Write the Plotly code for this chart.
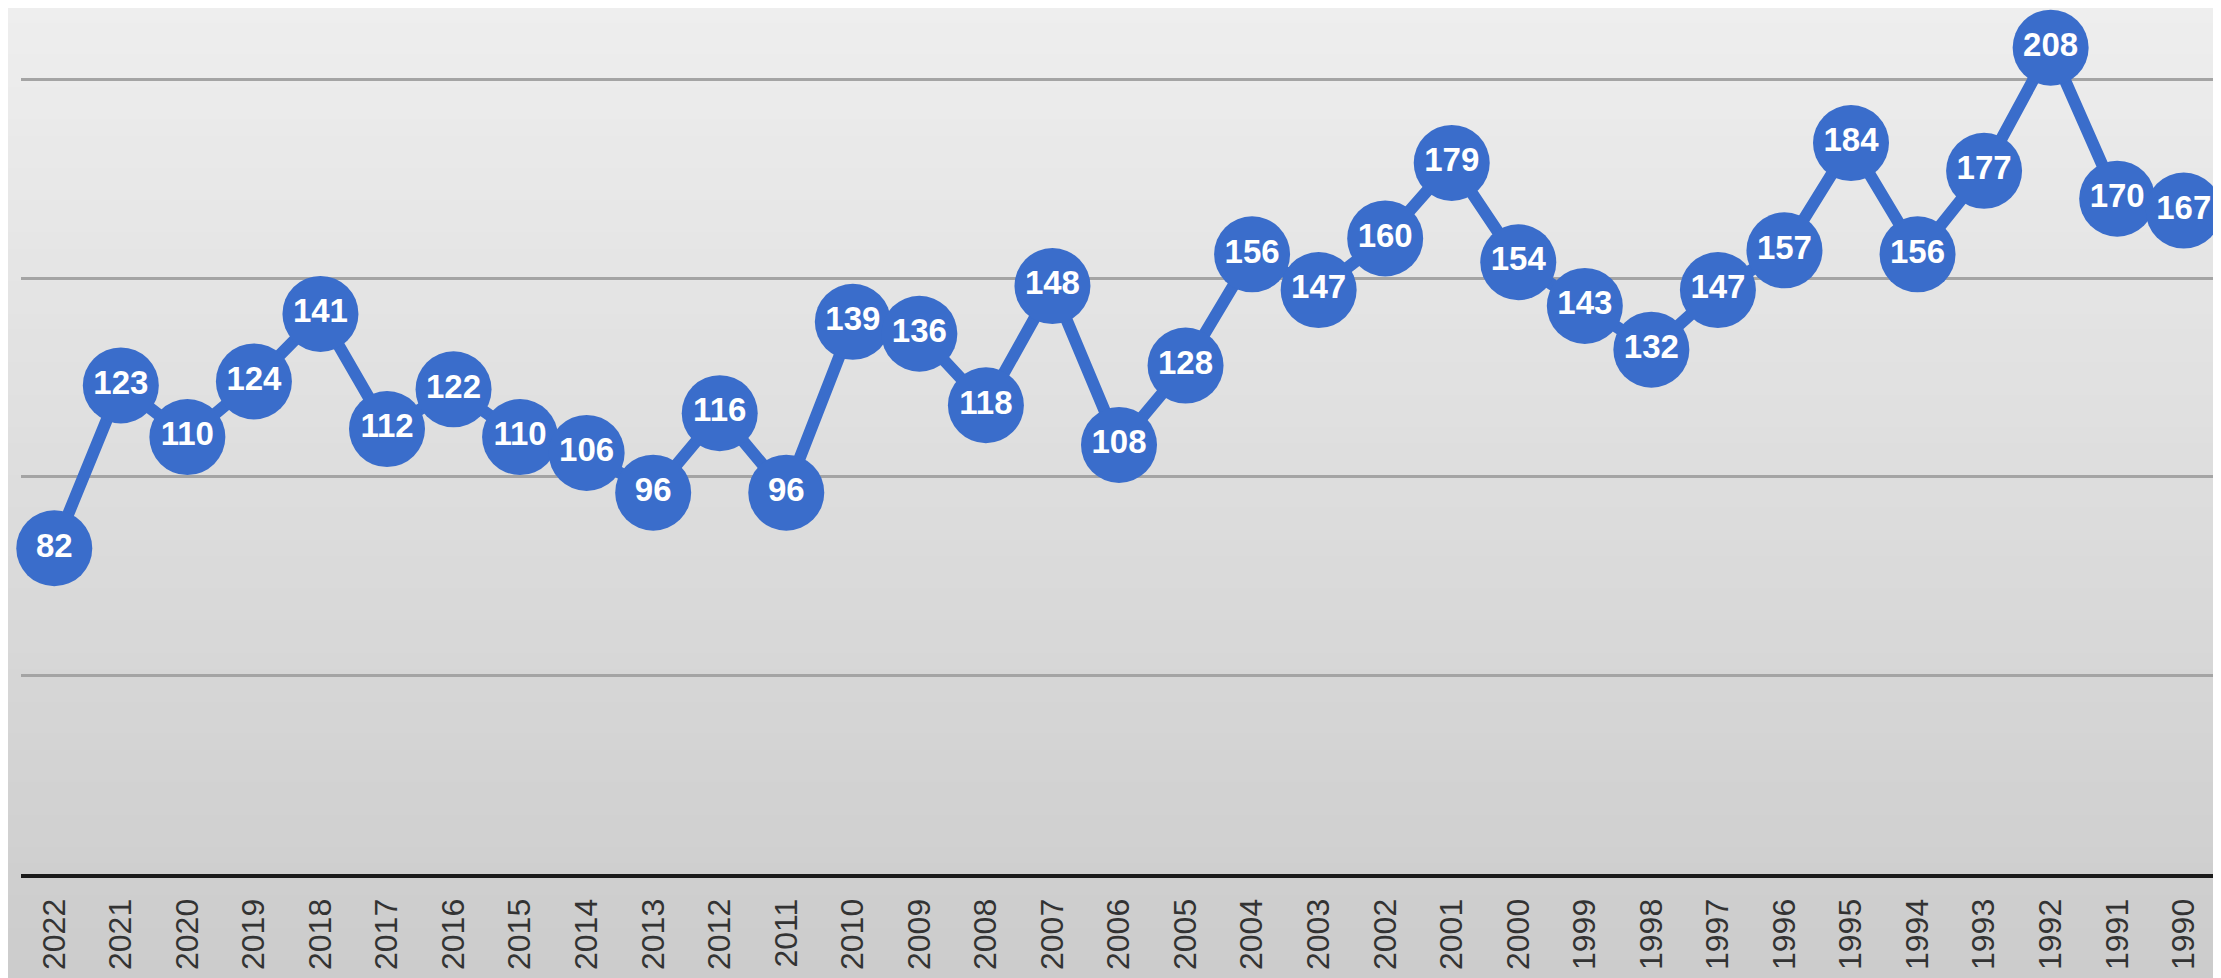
import plotly.graph_objects as go

years = [str(y) for y in range(2022, 1989, -1)]
values = [82, 123, 110, 124, 141, 112, 122, 110, 106, 96, 116, 96, 139, 136, 118,
          148, 108, 128, 156, 147, 160, 179, 154, 143, 132, 147, 157, 184, 156,
          177, 208, 170, 167]

# page has an 8px body margin, so the figure is drawn 8px smaller
W, H = 2213, 970
L, R, T, B = 13, 4, 0, 104
pw, ph = W - L - R, H - T - B

blue = "#3a6dcb"

fig = go.Figure()
fig.add_trace(go.Scatter(
    x=years, y=values, mode="lines+markers+text",
    line=dict(color=blue, width=12),
    marker=dict(color=blue, size=76, line=dict(width=0)),
    text=[str(v) for v in values], textposition="middle center",
    textfont=dict(family="Liberation Sans", size=33, color="white", weight="bold"),
    cliponaxis=False, hoverinfo="skip", showlegend=False,
))

# vertical gradient background
shapes = []
n = 60
top = (238, 238, 238)
bot = (204, 204, 204)
x0p, x1p = -L / pw, 1 + R / pw
y0p, y1p = -B / ph, 1 + T / ph
for i in range(n):
    t = i / (n - 1)
    c = tuple(round(top[k] + (bot[k] - top[k]) * t) for k in range(3))
    ya = y1p - (y1p - y0p) * i / n
    yb = y1p - (y1p - y0p) * (i + 1) / n
    shapes.append(dict(type="rect", xref="paper", yref="paper", x0=x0p, x1=x1p,
                       y0=yb, y1=ya + 0.002, fillcolor="rgb(%d,%d,%d)" % c,
                       line=dict(width=0), layer="below"))

fig.update_layout(
    width=W, height=H,
    margin=dict(l=L, r=R, t=T, b=B),
    paper_bgcolor="#dcdcdc", plot_bgcolor="rgba(0,0,0,0)",
    shapes=shapes,
    xaxis=dict(type="category", range=[-0.5, len(years) - 0.5], autorange=False,
               showgrid=False, showline=True, linecolor="#1a1a1a",
               linewidth=4, tickangle=-90, ticks="", ticklabelstandoff=8,
               tickfont=dict(family="Liberation Sans", size=32, color="#333333"),
               zeroline=False),
    yaxis=dict(range=[0, 218], tickvals=[50, 100, 150, 200], showticklabels=False,
               showgrid=True, gridcolor="#a4a4a4", gridwidth=3, zeroline=False,
               showline=False),
)

fig.write_html("out.html")
